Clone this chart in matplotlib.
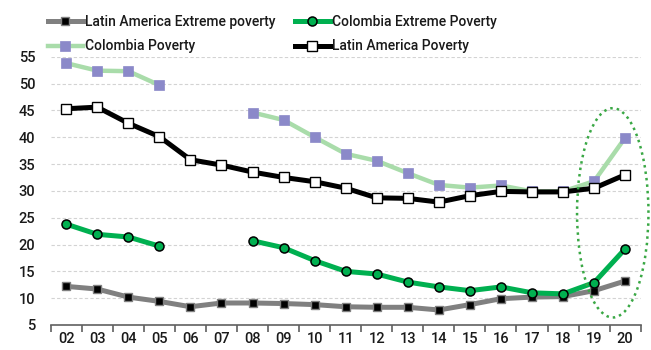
import numpy as np
import matplotlib
matplotlib.use("Agg")
import matplotlib.pyplot as plt
from matplotlib.patches import Ellipse

plt.rcParams['font.family'] = ['Roboto', 'DejaVu Sans']
plt.rcParams['font.weight'] = 'medium'

years = ["02", "03", "04", "05", "06", "07", "08", "09", "10", "11",
         "12", "13", "14", "15", "16", "17", "18", "19", "20"]

la_extreme = [12.2, 11.7, 10.2, 9.4, 8.4, 9.1, 9.1, 9.0, 8.8, 8.4,
              8.3, 8.3, 7.8, 8.8, 9.9, 10.2, 10.3, 11.4, 13.2]
col_extreme = [23.8, 21.9, 21.4, 19.7, np.nan, np.nan, 20.7, 19.4, 17.0, 15.0,
               14.5, 13.0, 12.1, 11.4, 12.1, 11.0, 10.8, 12.9, 19.2]
col_poverty = [53.8, 52.4, 52.3, 49.7, np.nan, np.nan, 44.6, 43.2, 40.0, 36.9,
               35.6, 33.3, 31.1, 30.6, 31.0, 29.9, 29.9, 31.8, 39.9]
la_poverty = [45.3, 45.6, 42.6, 40.1, 35.8, 34.8, 33.5, 32.5, 31.7, 30.5,
              28.7, 28.6, 27.9, 29.1, 29.9, 29.8, 29.8, 30.5, 33.0]

fig = plt.figure(figsize=(6.51, 3.5), dpi=100)
ax = fig.add_axes([50.7 / 651, 25 / 350, 590 / 651, 268.3 / 350])

x = np.arange(len(years))

h1, = ax.plot(x, la_extreme, color="#808080", lw=3.6, marker="s", ms=5.5,
              mfc="black", mec="#808080", mew=1.0, label="Latin America Extreme poverty", zorder=3)
h2, = ax.plot(x, col_poverty, color="#a9dcaa", lw=3.2, marker="s", ms=6.5,
              mfc="#8b89c9", mec="#8b89c9", mew=0.5, label="Colombia Poverty", zorder=3)
h3, = ax.plot(x, col_extreme, color="#00b050", lw=3.6, marker="o", ms=6.5,
              mfc="#00b050", mec="black", mew=1.1, label="Colombia Extreme Poverty", zorder=4)
h4, = ax.plot(x, la_poverty, color="black", lw=3.6, marker="s", ms=6.5,
              mfc="white", mec="black", mew=1.0, label="Latin America Poverty", zorder=5)

# highlight of the last two years
ell = Ellipse((17.6, 25.9), width=2.3, height=39.0, fill=False,
              edgecolor="#3aa845", lw=1.8, ls=(0, (1, 1.6)), clip_on=False, zorder=6)
ax.add_patch(ell)

ax.set_xlim(-0.5, len(years) - 0.5)
ax.set_ylim(5, 55)
ax.set_yticks(np.arange(5, 56, 5))
ax.set_xticks(x)
ax.set_xticklabels(years)
ax.set_xticks(np.arange(-0.5, len(years)), minor=True)

ax.grid(axis="y", color="#d3d3d3", ls=(0, (3, 2)), lw=0.8)
ax.set_axisbelow(True)
for s in ["top", "right", "left"]:
    ax.spines[s].set_visible(False)
ax.spines["bottom"].set_color("#606060")
ax.spines["bottom"].set_linewidth(1.2)

ax.tick_params(axis="x", which="major", length=0, pad=5, labelsize=10.5, colors="#1a1a1a")
ax.tick_params(axis="x", which="minor", length=5, width=1.2, color="#606060")
ax.tick_params(axis="y", length=0, pad=11, labelsize=10.5, colors="#1a1a1a")

leg_kw = dict(loc="upper left", frameon=False, fontsize=10, handlelength=2.5,
              handletextpad=0.15, labelspacing=0.75, borderpad=0, borderaxespad=0)
leg1 = fig.legend([h1, h2], [h1.get_label(), h2.get_label()],
                  bbox_to_anchor=(48 / 651, 1 - 15 / 350), **leg_kw)
leg2 = fig.legend([h3, h4], [h3.get_label(), h4.get_label()],
                  bbox_to_anchor=(295 / 651, 1 - 15 / 350), **leg_kw)
for leg in (leg1, leg2):
    for t in leg.get_texts():
        t.set_color("#1a1a1a")

fig.savefig("out.png", dpi=100)
